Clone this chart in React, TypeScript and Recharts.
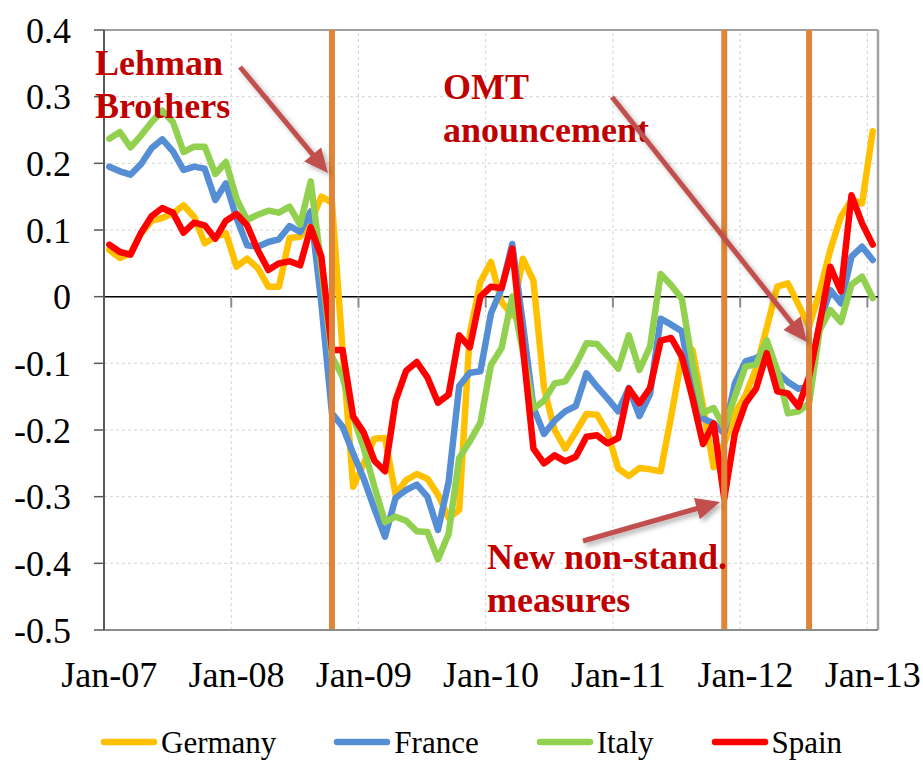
import { LineChart, Line, XAxis, YAxis, CartesianGrid, ReferenceLine, Legend } from 'recharts';

const MONTH_NAMES = ['Jan', 'Feb', 'Mar', 'Apr', 'May', 'Jun', 'Jul', 'Aug', 'Sep', 'Oct', 'Nov', 'Dec'];
const YEARS = ['07', '08', '09', '10', '11', '12', '13'];

// monthly categories, Jan-07 .. Jan-13
const months: string[] = [];
YEARS.forEach((y) => MONTH_NAMES.forEach((m) => { if (months.length < 73) months.push(`${m}-${y}`); }));

const X_TICK_LABELS = ['Jan-07', 'Jan-08', 'Jan-09', 'Jan-10', 'Jan-11', 'Jan-12', 'Jan-13'];
const Y_TICKS = [0.4, 0.3, 0.2, 0.1, 0, -0.1, -0.2, -0.3, -0.4, -0.5];
const EVENT_MONTHS = ['Oct-08', 'Nov-11', 'Jul-12'];

const germany = [
  0.070, 0.058, 0.065, 0.095, 0.114, 0.118, 0.125, 0.137, 0.120, 0.080, 0.090, 0.095,
  0.045, 0.057, 0.043, 0.015, 0.015, 0.088, 0.090, 0.112, 0.150, 0.141, -0.080, -0.285,
  -0.250, -0.213, -0.212, -0.297, -0.275, -0.266, -0.273, -0.297, -0.332, -0.320, -0.055, 0.022,
  0.052, -0.008, -0.028, 0.057, 0.024, -0.137, -0.200, -0.228, -0.203, -0.176, -0.177, -0.204,
  -0.258, -0.269, -0.257, -0.259, -0.262, -0.179, -0.090, -0.080, -0.165, -0.256, -0.220, -0.175,
  -0.148, -0.108, -0.047, 0.015, 0.020, -0.012, -0.045, 0.008, 0.070, 0.120, 0.145, 0.140,
  0.248,
];
const france = [
  0.195, 0.188, 0.183, 0.199, 0.223, 0.236, 0.218, 0.190, 0.195, 0.192, 0.145, 0.170,
  0.118, 0.077, 0.075, 0.082, 0.086, 0.106, 0.097, 0.128, -0.010, -0.175, -0.195, -0.235,
  -0.273, -0.318, -0.360, -0.302, -0.290, -0.282, -0.300, -0.350, -0.278, -0.134, -0.114, -0.112,
  -0.025, 0.012, 0.079, -0.040, -0.166, -0.206, -0.186, -0.172, -0.164, -0.115, -0.135, -0.153,
  -0.172, -0.137, -0.179, -0.146, -0.033, -0.042, -0.052, -0.139, -0.183, -0.190, -0.205, -0.130,
  -0.097, -0.092, -0.083, -0.113, -0.128, -0.138, -0.135, -0.040, 0.010, -0.010, 0.060, 0.075,
  0.055,
];
const italy = [
  0.237, 0.247, 0.224, 0.242, 0.262, 0.279, 0.262, 0.217, 0.225, 0.225, 0.184, 0.202,
  0.147, 0.115, 0.123, 0.129, 0.126, 0.135, 0.108, 0.173, 0.045, -0.090, -0.120, -0.180,
  -0.227, -0.285, -0.338, -0.330, -0.336, -0.352, -0.353, -0.394, -0.356, -0.242, -0.217, -0.189,
  -0.102, -0.077, 0.000, -0.082, -0.168, -0.156, -0.130, -0.127, -0.102, -0.070, -0.071, -0.089,
  -0.108, -0.058, -0.110, -0.075, 0.034, 0.017, -0.003, -0.100, -0.174, -0.167, -0.196, -0.150,
  -0.105, -0.102, -0.065, -0.110, -0.175, -0.172, -0.160, -0.050, -0.020, -0.038, 0.018, 0.030,
  -0.002,
];
const spain = [
  0.078, 0.067, 0.063, 0.096, 0.121, 0.133, 0.126, 0.096, 0.111, 0.107, 0.087, 0.114,
  0.124, 0.107, 0.070, 0.040, 0.050, 0.053, 0.047, 0.104, 0.060, -0.080, -0.080, -0.180,
  -0.204, -0.246, -0.262, -0.156, -0.111, -0.098, -0.121, -0.159, -0.147, -0.058, -0.076, 0.000,
  0.015, 0.013, 0.072, -0.075, -0.228, -0.250, -0.238, -0.247, -0.240, -0.210, -0.208, -0.220,
  -0.212, -0.138, -0.160, -0.137, -0.066, -0.062, -0.090, -0.152, -0.221, -0.190, -0.303, -0.205,
  -0.160, -0.138, -0.085, -0.142, -0.145, -0.165, -0.120, -0.040, 0.045, 0.008, 0.152, 0.110,
  0.078,
];

const SERIES = [
  { key: 'Germany', color: '#FFC000' },
  { key: 'France', color: '#558ED5' },
  { key: 'Italy', color: '#92D050' },
  { key: 'Spain', color: '#FF0000' },
];

const data = months.map((m, i) => ({
  t: i,
  month: m,
  Germany: germany[i],
  France: france[i],
  Italy: italy[i],
  Spain: spain[i],
}));

const X_TICKS = X_TICK_LABELS.map((l) => months.indexOf(l));
const YEAR_BOUNDS = X_TICKS.slice(1).map((t) => t - 0.5);
const X_MIN = -0.5;
const X_MAX = months.length - 0.5;

const FONT = '"Liberation Serif", "Times New Roman", serif';
const ANNOT = '#C00000';
const ARROW = '#C0504D';

const fmtY = (v: number) => (v === 0 ? '0' : v.toFixed(1));

function Arrow({ x1, y1, x2, y2 }: { x1: number; y1: number; x2: number; y2: number }) {
  const dx = x2 - x1;
  const dy = y2 - y1;
  const len = Math.sqrt(dx * dx + dy * dy);
  const ux = dx / len;
  const uy = dy / len;
  const headL = 24;
  const headW = 11;
  const bx = x2 - ux * headL;
  const by = y2 - uy * headL;
  const pts = `${x2},${y2} ${bx - uy * headW},${by + ux * headW} ${bx + uy * headW},${by - ux * headW}`;
  return (
    <g filter="url(#arrowShadow)">
      <line x1={x1} y1={y1} x2={bx + ux * 2} y2={by + uy * 2} stroke={ARROW} strokeWidth={5} />
      <polygon points={pts} fill={ARROW} />
    </g>
  );
}

function LegendContent() {
  return (
    <div style={{ height: 60, paddingTop: 24, boxSizing: 'border-box' }}>
      <div style={{ display: 'flex', alignItems: 'center', height: 36, paddingLeft: 100 }}>
        {SERIES.map((s, i) => (
          <div key={s.key} style={{ display: 'flex', alignItems: 'center', marginLeft: i === 0 ? 0 : 57 }}>
            <svg width={58} height={10}>
              <line x1={4} y1={5} x2={54} y2={5} stroke={s.color} strokeWidth={6.5} strokeLinecap="round" />
            </svg>
            <span style={{ fontFamily: FONT, fontSize: 31, color: '#000', marginLeft: 3, lineHeight: 1 }}>{s.key}</span>
          </div>
        ))}
      </div>
    </div>
  );
}

export default function App() {
  return (
    <div style={{ position: 'relative', width: 923, height: 760, background: '#fff', overflow: 'hidden' }}>
      <style>{'body{margin:0}'}</style>
      <LineChart width={923} height={760} data={data} margin={{ top: 30, right: 45, bottom: 0, left: 0 }}>
        <CartesianGrid vertical={false} stroke="#d4d4d4" strokeDasharray="3 3" />
        {YEAR_BOUNDS.map((b) => (
          <ReferenceLine key={`g${b}`} x={b} stroke="#d4d4d4" strokeDasharray="3 3" />
        ))}
        <XAxis
          dataKey="t"
          type="number"
          domain={[X_MIN, X_MAX]}
          ticks={X_TICKS}
          interval={0}
          allowDataOverflow
          tickFormatter={(v: number) => months[v]}
          height={70}
          tickLine={false}
          tickSize={6}
          tickMargin={25}
          axisLine={{ stroke: '#8c8c8c', strokeWidth: 2 }}
          tick={{ fontSize: 36, fill: '#000', fontFamily: FONT }}
        />
        <YAxis
          type="number"
          domain={[-0.5, 0.4]}
          ticks={Y_TICKS}
          interval={0}
          width={104}
          tickSize={10}
          tickMargin={23}
          tickFormatter={fmtY}
          tickLine={{ stroke: '#595959', strokeWidth: 1.5 }}
          axisLine={{ stroke: '#595959', strokeWidth: 2 }}
          tick={{ fontSize: 36, fill: '#000', fontFamily: FONT }}
        />
        <ReferenceLine y={0.4} stroke="#a0a0a0" strokeWidth={2} />
        <ReferenceLine x={X_MAX} stroke="#a0a0a0" strokeWidth={2.5} />
        <ReferenceLine y={0} stroke="#000" strokeWidth={1.5} />
        {YEAR_BOUNDS.map((b) => (
          <ReferenceLine
            key={`t${b}`}
            segment={[{ x: b, y: 0 }, { x: b, y: -0.0165 }]}
            stroke="#8c8c8c"
            strokeWidth={2}
          />
        ))}
        {SERIES.map((s) => (
          <Line
            key={s.key}
            type="linear"
            dataKey={s.key}
            stroke={s.color}
            strokeWidth={6.5}
            strokeLinejoin="round"
            strokeLinecap="round"
            dot={false}
            activeDot={false}
            isAnimationActive={false}
          />
        ))}
        {EVENT_MONTHS.map((m) => (
          <ReferenceLine key={m} x={months.indexOf(m)} stroke="#DF8539" strokeWidth={6} />
        ))}
        <Legend verticalAlign="bottom" wrapperStyle={{ left: 0, width: 923, bottom: 0 }} content={<LegendContent />} />
      </LineChart>
      <svg
        width={923}
        height={760}
        style={{ position: 'absolute', left: 0, top: 0, pointerEvents: 'none' }}
      >
        <defs>
          <filter id="arrowShadow" x="-20%" y="-20%" width="140%" height="140%">
            <feDropShadow dx="3" dy="3" stdDeviation="2.5" floodColor="#000" floodOpacity="0.3" />
          </filter>
        </defs>
        <g fontFamily={FONT} fontWeight="bold" fontSize={36} fill={ANNOT}>
          <text x={95} y={75}>Lehman</text>
          <text x={95} y={118}>Brothers</text>
          <text x={443} y={99}>OMT</text>
          <text x={443} y={142}>anouncement</text>
          <text x={487} y={569}>New non-stand.</text>
          <text x={487} y={612}>measures</text>
        </g>
        <Arrow x1={240} y1={67} x2={328} y2={173} />
        <Arrow x1={612} y1={97} x2={807} y2={342} />
        <Arrow x1={583} y1={541} x2={720} y2={502} />
      </svg>
    </div>
  );
}
